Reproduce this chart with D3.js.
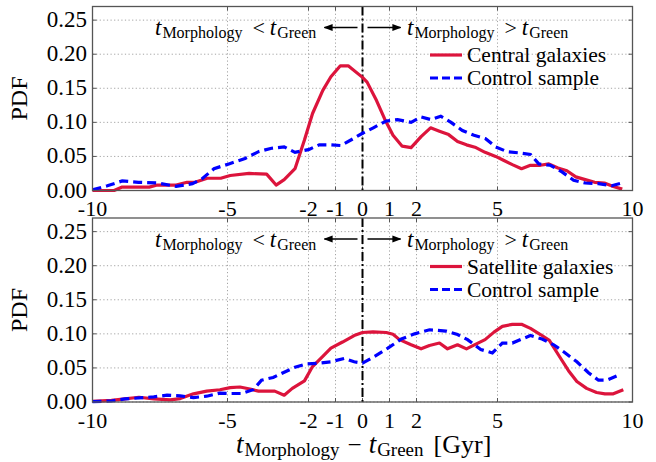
<!DOCTYPE html>
<html>
<head>
<meta charset="utf-8">
<script src="https://cdn.jsdelivr.net/npm/d3@7"></script>
<style>
  html, body { margin: 0; padding: 0; background: #fff; }
  svg { display: block; }
  text { font-family: "Liberation Serif", "DejaVu Serif", "Noto Serif", "Times New Roman", Times, serif; fill: #000; }
</style>
</head>
<body>
<svg id="chart" width="656" height="462"></svg>
<script>
// ---------------- data ----------------
const xTicks = [-10, -5, -2, -1, 0, 1, 2, 5, 10];
const yTicks = [0.00, 0.05, 0.10, 0.15, 0.20, 0.25];
const yTickLabels = ["0.00", "0.05", "0.10", "0.15", "0.20", "0.25"];

const centralGalaxies = [
  [-10, 0.0], [-9.2, 0.0], [-8.9, 0.005], [-7.9, 0.005], [-7.6, 0.008], [-6.9, 0.008],
  [-6.5, 0.012], [-6.2, 0.012], [-5.75, 0.018], [-5.25, 0.018], [-4.9, 0.022], [-4.2, 0.025],
  [-3.55, 0.024], [-3.2, 0.008], [-2.9, 0.016], [-2.5, 0.032], [-2.15, 0.074], [-1.85, 0.113],
  [-1.47, 0.147], [-1.17, 0.167], [-0.82, 0.183], [-0.53, 0.183], [0.0, 0.166], [0.17, 0.159],
  [0.52, 0.132], [0.82, 0.105], [1.13, 0.081], [1.47, 0.065], [1.8, 0.063], [2.17, 0.079],
  [2.52, 0.092], [2.85, 0.087], [3.19, 0.082], [3.52, 0.072], [3.85, 0.067], [4.2, 0.063],
  [4.54, 0.056], [4.93, 0.050], [5.24, 0.044], [5.55, 0.038], [5.89, 0.032], [6.22, 0.037],
  [6.59, 0.037], [6.9, 0.039], [7.24, 0.033], [7.57, 0.029], [7.9, 0.020], [8.25, 0.016],
  [8.6, 0.012], [8.96, 0.011], [9.29, 0.006], [9.62, 0.002]
];
const controlCentral = [
  [-10, 0.001], [-9.45, 0.007], [-8.9, 0.014], [-8.3, 0.012], [-7.6, 0.011], [-6.9, 0.006],
  [-6.3, 0.010], [-5.95, 0.017], [-5.5, 0.032], [-4.95, 0.039], [-4.35, 0.047], [-3.85, 0.057],
  [-3.37, 0.062], [-2.9, 0.064], [-2.5, 0.056], [-2.0, 0.060], [-1.6, 0.067], [-1.17, 0.067],
  [-0.8, 0.066], [-0.3, 0.077], [0.0, 0.084], [0.4, 0.092], [0.88, 0.102], [1.3, 0.104],
  [1.8, 0.100], [2.17, 0.108], [2.54, 0.104], [2.9, 0.109], [3.28, 0.100], [3.7, 0.088],
  [4.13, 0.081], [4.56, 0.076], [4.93, 0.064], [5.36, 0.057], [5.85, 0.055], [6.22, 0.053],
  [6.53, 0.039], [6.96, 0.037], [7.4, 0.027], [7.82, 0.015], [8.25, 0.011], [8.74, 0.010],
  [9.23, 0.007], [9.6, 0.011]
];
const satelliteGalaxies = [
  [-10, 0.001], [-9.3, 0.0025], [-8.8, 0.0045], [-8.28, 0.007], [-7.73, 0.0045], [-7.12, 0.003],
  [-6.75, 0.005], [-6.26, 0.012], [-5.77, 0.016], [-5.28, 0.018], [-4.9, 0.021], [-4.54, 0.022],
  [-4.17, 0.019], [-3.85, 0.016], [-3.25, 0.016], [-2.9, 0.010], [-2.6, 0.020], [-2.15, 0.031],
  [-1.85, 0.052], [-1.47, 0.067], [-1.17, 0.079], [-0.74, 0.088], [-0.31, 0.0975], [0.0, 0.102],
  [0.39, 0.103], [0.88, 0.102], [1.13, 0.0995], [1.37, 0.0915], [1.8, 0.084], [2.17, 0.078],
  [2.48, 0.083], [2.85, 0.0865], [3.15, 0.078], [3.52, 0.084], [3.85, 0.078], [4.2, 0.085],
  [4.54, 0.0915], [4.87, 0.1025], [5.18, 0.111], [5.55, 0.114], [5.89, 0.114], [6.22, 0.108],
  [6.59, 0.099], [6.92, 0.0905], [7.26, 0.069], [7.63, 0.046], [7.94, 0.030], [8.3, 0.020],
  [8.67, 0.014], [8.98, 0.012], [9.29, 0.012], [9.66, 0.018]
];
const controlSatellite = [
  [-10, 0.0005], [-9.3, 0.0015], [-8.8, 0.0045], [-8.28, 0.006], [-7.73, 0.0075], [-7.24, 0.010],
  [-6.75, 0.009], [-6.26, 0.0065], [-5.77, 0.0085], [-5.28, 0.013], [-4.85, 0.0125], [-4.48, 0.0125],
  [-4.05, 0.018], [-3.74, 0.032], [-3.31, 0.036], [-2.94, 0.043], [-2.5, 0.051], [-2.07, 0.056],
  [-1.6, 0.057], [-1.17, 0.059], [-0.67, 0.064], [-0.31, 0.059], [0.0, 0.057], [0.45, 0.067],
  [0.94, 0.079], [1.44, 0.0925], [1.93, 0.100], [2.48, 0.106], [3.09, 0.104], [3.52, 0.099],
  [3.89, 0.0915], [4.38, 0.077], [4.81, 0.072], [5.18, 0.0865], [5.55, 0.0865], [5.91, 0.0925],
  [6.22, 0.0975], [6.65, 0.0925], [7.08, 0.084], [7.51, 0.072], [7.94, 0.059], [8.37, 0.043],
  [8.74, 0.032], [9.04, 0.032], [9.41, 0.038]
];
const redLabels = ["Central galaxies", "Satellite galaxies"];
const blueLabel = "Control sample";

// ---------------- layout ----------------
const svg = d3.select("#chart");
svg.append("rect").attr("width", 656).attr("height", 462).attr("fill", "#fff");

const X0 = 92.5, X1 = 632.5;
const x = d3.scaleLinear().domain([-10, 10]).range([X0, X1]);
const panels = [
  { top: 6.5, bottom: 190.5, red: centralGalaxies, blue: controlCentral, label: redLabels[0] },
  { top: 218, bottom: 402, red: satelliteGalaxies, blue: controlSatellite, label: redLabels[1] }
];

const RED = "#dc143c", BLUE = "#0000ff";

const defs = svg.append("defs");
defs.append("marker").attr("id", "ah")
  .attr("viewBox", "0 0 10 10").attr("refX", 9).attr("refY", 5)
  .attr("markerWidth", 9).attr("markerHeight", 9)
  .attr("markerUnits", "userSpaceOnUse").attr("orient", "auto-start-reverse")
  .append("path").attr("d", "M0,1 L10,5 L0,9 Z").attr("fill", "#000");

function annot(g, xStart, yBase, op) {
  const t = g.append("text").attr("x", xStart).attr("y", yBase);
  t.append("tspan").text("t").style("font-style", "italic").style("font-size", "23px");
  t.append("tspan").text("Morphology").style("font-size", "16px").attr("dy", 3).attr("dx", 1);
  t.append("tspan").text(op).style("font-size", "22px").attr("dy", -3).attr("dx", 10);
  t.append("tspan").text("t").style("font-style", "italic").style("font-size", "23px").attr("dx", 5);
  t.append("tspan").text("Green").style("font-size", "16px").attr("dy", 3).attr("dx", 1);
}

panels.forEach((p, i) => {
  const y = d3.scaleLinear().domain([0, 0.27]).range([p.bottom, p.top]);
  const g = svg.append("g");

  // grid
  g.selectAll(".vg").data(xTicks).enter().append("line")
    .attr("x1", d => x(d)).attr("x2", d => x(d))
    .attr("y1", p.top).attr("y2", p.bottom)
    .attr("stroke", "#9a9a9a").attr("stroke-width", 0.9).attr("stroke-dasharray", "1.2,2.4");
  g.selectAll(".hg").data(yTicks).enter().append("line")
    .attr("x1", X0).attr("x2", X1)
    .attr("y1", d => y(d)).attr("y2", d => y(d))
    .attr("stroke", "#9a9a9a").attr("stroke-width", 0.9).attr("stroke-dasharray", "1.2,2.4");

  // ticks (inward)
  yTicks.forEach(d => {
    g.append("line").attr("x1", X0).attr("x2", X0 + 4).attr("y1", y(d)).attr("y2", y(d)).attr("stroke", "#555");
    g.append("line").attr("x1", X1).attr("x2", X1 - 4).attr("y1", y(d)).attr("y2", y(d)).attr("stroke", "#555");
  });
  xTicks.forEach(d => {
    g.append("line").attr("x1", x(d)).attr("x2", x(d)).attr("y1", p.bottom).attr("y2", p.bottom - 4).attr("stroke", "#555");
    g.append("line").attr("x1", x(d)).attr("x2", x(d)).attr("y1", p.top).attr("y2", p.top + 4).attr("stroke", "#555");
  });

  // zero line
  g.append("line").attr("x1", x(0)).attr("x2", x(0)).attr("y1", p.top).attr("y2", p.bottom)
    .attr("stroke", "#000").attr("stroke-width", 2).attr("stroke-dasharray", "9,3,2,3");

  const line = d3.line().x(d => x(d[0])).y(d => y(d[1]));
  g.append("path").datum(p.red).attr("d", line).attr("fill", "none")
    .attr("stroke", RED).attr("stroke-width", 3.2).attr("stroke-linejoin", "round");
  g.append("path").datum(p.blue).attr("d", line).attr("fill", "none")
    .attr("stroke", BLUE).attr("stroke-width", 3.2).attr("stroke-dasharray", "9,5");

  // frame
  g.append("rect").attr("x", X0).attr("y", p.top).attr("width", X1 - X0).attr("height", p.bottom - p.top)
    .attr("fill", "none").attr("stroke", "#555").attr("stroke-width", 1.3);

  // tick labels
  g.selectAll(".xl").data(xTicks).enter().append("text")
    .attr("x", d => x(d)).attr("y", p.bottom + 25.5)
    .attr("text-anchor", "middle").style("font-size", "22px")
    .text(d => String(d));
  g.selectAll(".yl").data(yTicks).enter().append("text")
    .attr("x", 87).attr("y", d => y(d) + 7)
    .attr("text-anchor", "end").style("font-size", "23px")
    .text((d, k) => yTickLabels[k]);

  // y label
  g.append("text").attr("transform", `translate(27,${(p.top + p.bottom) / 2}) rotate(-90)`)
    .attr("text-anchor", "middle").style("font-size", "24px").text("PDF");

  // annotations
  const ay = p.top + 21;
  g.append("line").attr("x1", x(0) - 5).attr("x2", x(0) - 38).attr("y1", ay).attr("y2", ay)
    .attr("stroke", "#000").attr("stroke-width", 1.6).attr("marker-end", "url(#ah)");
  g.append("line").attr("x1", x(0) + 5).attr("x2", x(0) + 38).attr("y1", ay).attr("y2", ay)
    .attr("stroke", "#000").attr("stroke-width", 1.6).attr("marker-end", "url(#ah)");
  annot(g, 155, p.top + 28.5, "<");
  annot(g, 407, p.top + 28.5, ">");

  // legend
  const ly1 = p.top + 48.5, ly2 = p.top + 71.5;
  g.append("line").attr("x1", 430).attr("x2", 462).attr("y1", ly1).attr("y2", ly1)
    .attr("stroke", RED).attr("stroke-width", 3.2);
  g.append("text").attr("x", 467).attr("y", ly1 + 7).style("font-size", "21.5px").text(p.label);
  g.append("line").attr("x1", 430).attr("x2", 462).attr("y1", ly2).attr("y2", ly2)
    .attr("stroke", BLUE).attr("stroke-width", 3.2).attr("stroke-dasharray", "8,4");
  g.append("text").attr("x", 467).attr("y", ly2 + 7).style("font-size", "21.5px").text(blueLabel);
});

// x-axis title
const xt = svg.append("text").attr("x", 236).attr("y", 453);
xt.append("tspan").text("t").style("font-style", "italic").style("font-size", "27px");
xt.append("tspan").text("Morphology").style("font-size", "19px").attr("dy", 3).attr("dx", 1);
xt.append("tspan").text("\u2212").style("font-size", "25px").attr("dy", -3).attr("dx", 8);
xt.append("tspan").text("t").style("font-style", "italic").style("font-size", "27px").attr("dx", 7);
xt.append("tspan").text("Green").style("font-size", "19px").attr("dy", 3).attr("dx", 1);
xt.append("tspan").text("[Gyr]").style("font-size", "26px").attr("dy", -3).attr("dx", 10);
</script>
</body>
</html>
